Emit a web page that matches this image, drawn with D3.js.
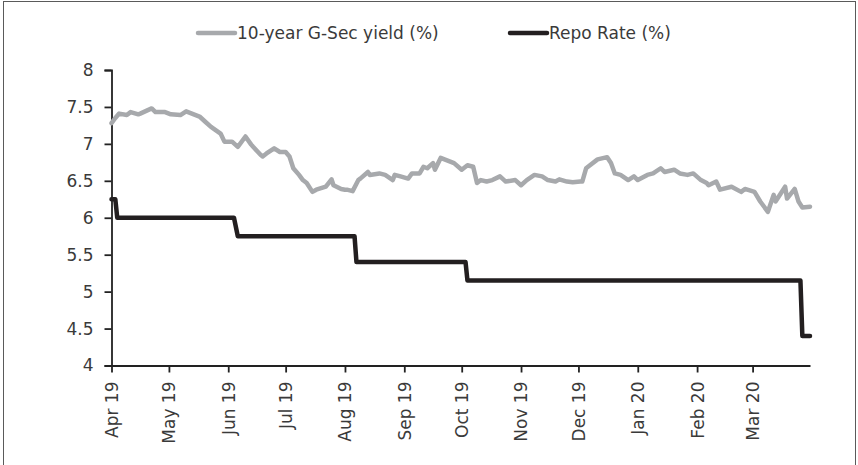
<!DOCTYPE html>
<html>
<head>
<meta charset="utf-8">
<script src="https://cdn.jsdelivr.net/npm/d3@7"></script>
<style>
  html, body { margin: 0; padding: 0; background: #fff; }
  svg { display: block; }
  text { font-family: "DejaVu Sans", "Open Sans", sans-serif; fill: #3a3a3a; }
</style>
</head>
<body>
<svg id="chart" width="858" height="465"></svg>
<script>
// ---- Data ----
const gsecDates = [
  "2019-04-01","2019-04-03","2019-04-05","2019-04-09","2019-04-11","2019-04-15","2019-04-16","2019-04-22","2019-04-24","2019-04-29",
  "2019-05-02","2019-05-07","2019-05-10","2019-05-14","2019-05-17","2019-05-20","2019-05-23","2019-05-28","2019-05-30",
  "2019-06-03","2019-06-06","2019-06-10","2019-06-13","2019-06-14","2019-06-18","2019-06-19","2019-06-21","2019-06-25","2019-06-28",
  "2019-07-01","2019-07-03","2019-07-05","2019-07-08","2019-07-10","2019-07-12","2019-07-15","2019-07-17","2019-07-22","2019-07-25","2019-07-26","2019-07-30",
  "2019-08-01","2019-08-02","2019-08-05","2019-08-08","2019-08-09","2019-08-13","2019-08-14","2019-08-19","2019-08-22","2019-08-26","2019-08-27","2019-08-30",
  "2019-09-03","2019-09-05","2019-09-09","2019-09-11","2019-09-13","2019-09-16","2019-09-17","2019-09-20","2019-09-23","2019-09-25","2019-09-27",
  "2019-10-01","2019-10-04","2019-10-07","2019-10-09","2019-10-11","2019-10-14","2019-10-17","2019-10-21","2019-10-24","2019-10-29",
  "2019-11-01","2019-11-04","2019-11-08","2019-11-12","2019-11-15","2019-11-19","2019-11-21","2019-11-25","2019-11-28",
  "2019-12-02","2019-12-03","2019-12-05","2019-12-06","2019-12-11","2019-12-16","2019-12-18","2019-12-20","2019-12-23","2019-12-27","2019-12-30",
  "2020-01-01","2020-01-06","2020-01-09","2020-01-13","2020-01-15","2020-01-20","2020-01-23","2020-01-27","2020-01-30",
  "2020-02-03","2020-02-06","2020-02-07","2020-02-11","2020-02-13","2020-02-19","2020-02-24","2020-02-26",
  "2020-03-02","2020-03-05","2020-03-09","2020-03-12","2020-03-13","2020-03-18","2020-03-19","2020-03-23","2020-03-25","2020-03-27","2020-03-31"
];
const gsecValues = [
  7.28,7.35,7.41,7.39,7.43,7.40,7.41,7.48,7.43,7.43,
  7.40,7.39,7.44,7.40,7.37,7.30,7.23,7.14,7.03,
  7.03,6.96,7.10,6.99,6.96,6.85,6.83,6.87,6.94,6.89,
  6.89,6.83,6.67,6.58,6.51,6.47,6.35,6.38,6.42,6.52,6.44,6.39,
  6.38,6.38,6.36,6.51,6.53,6.62,6.58,6.60,6.58,6.51,6.58,6.56,
  6.53,6.60,6.60,6.69,6.67,6.74,6.65,6.81,6.78,6.76,6.74,
  6.65,6.71,6.69,6.47,6.51,6.49,6.51,6.56,6.49,6.51,
  6.44,6.51,6.58,6.56,6.51,6.49,6.52,6.49,6.48,
  6.49,6.49,6.67,6.69,6.79,6.82,6.74,6.60,6.58,6.51,6.56,
  6.51,6.58,6.60,6.67,6.62,6.65,6.60,6.58,6.60,
  6.51,6.47,6.44,6.49,6.38,6.42,6.35,6.39,
  6.35,6.22,6.08,6.31,6.22,6.42,6.26,6.39,6.22,6.14,6.15
];
const repoDates = [
  "2019-04-01","2019-04-03","2019-04-04","2019-06-04","2019-06-06","2019-08-06","2019-08-07",
  "2019-10-03","2019-10-04","2020-03-26","2020-03-27","2020-03-31"
];
const repoValues = [6.25,6.25,6.00,6.00,5.75,5.75,5.40,5.40,5.15,5.15,4.40,4.40];
const yTicks = [4,4.5,5,5.5,6,6.5,7,7.5,8];
const monthTicks = ["2019-04-01","2019-05-01","2019-06-01","2019-07-01","2019-08-01","2019-09-01",
  "2019-10-01","2019-11-01","2019-12-01","2020-01-01","2020-02-01","2020-03-01"];
const seriesNames = ["10-year G-Sec yield (%)","Repo Rate (%)"];
const seriesColors = ["#A7A9AC","#231F20"];

// ---- Drawing ----
const parse = d3.utcParse("%Y-%m-%d");
const svg = d3.select("#chart");

// outer frame
svg.append("rect").attr("x",3.5).attr("y",1.5).attr("width",852).attr("height",480)
  .attr("fill","none").attr("stroke","#5a5a5a").attr("stroke-width",1);

const x = d3.scaleUtc().domain([parse("2019-04-01"), parse("2020-03-31")]).range([111.5, 810]);
const y = d3.scaleLinear().domain([4, 8]).range([365.5, 70]);

const gsec = gsecDates.map((d,i)=>({date:parse(d), value:gsecValues[i]}));
const repo = repoDates.map((d,i)=>({date:parse(d), value:repoValues[i]}));

// Y axis
const yAxis = svg.append("g").attr("transform","translate(111.5,0)")
  .call(d3.axisLeft(y).tickValues(yTicks).tickSize(7).tickPadding(11).tickFormat(d3.format("~g")));
yAxis.select(".domain").attr("stroke","#222").attr("stroke-width",1.8);
yAxis.selectAll(".tick line").attr("stroke","#222").attr("stroke-width",1.8);
yAxis.selectAll(".tick text").attr("font-size",17).style("fill","#3a3a3a")
  .style("font-family","'DejaVu Sans', sans-serif");

// X axis
const xAxis = svg.append("g").attr("transform","translate(0,365.5)")
  .call(d3.axisBottom(x).tickValues(monthTicks.map(parse)).tickSize(7).tickSizeOuter(0)
    .tickFormat(d3.utcFormat("%b %y")));
xAxis.select(".domain").attr("stroke","#222").attr("stroke-width",1.8);
xAxis.selectAll(".tick line").attr("stroke","#222").attr("stroke-width",1.8);
xAxis.selectAll(".tick text")
  .attr("font-size",17).style("fill","#3a3a3a")
  .style("font-family","'DejaVu Sans', sans-serif")
  .attr("text-anchor","end")
  .attr("transform","rotate(-90)")
  .attr("x",-16).attr("y",0).attr("dy","0.35em");

// Lines
const line = d3.line().x(d=>x(d.date)).y(d=>y(d.value));
svg.append("path").datum(gsec).attr("d",line)
  .attr("fill","none").attr("stroke",seriesColors[0]).attr("stroke-width",4.5)
  .attr("stroke-linejoin","round").attr("stroke-linecap","round");
svg.append("path").datum(repo).attr("d",line)
  .attr("fill","none").attr("stroke",seriesColors[1]).attr("stroke-width",4.5)
  .attr("stroke-linejoin","round").attr("stroke-linecap","round");

// Legend
const legendItems = [{x:196, name:seriesNames[0], color:seriesColors[0]},
                     {x:508, name:seriesNames[1], color:seriesColors[1]}];
const lg = svg.append("g");
legendItems.forEach(it=>{
  lg.append("line").attr("x1",it.x+2).attr("x2",it.x+39).attr("y1",33).attr("y2",33)
    .attr("stroke",it.color).attr("stroke-width",4.5).attr("stroke-linecap","round");
  lg.append("text").attr("x",it.x+41).attr("y",33).attr("dy","0.35em")
    .attr("font-size",17).text(it.name);
});
</script>
</body>
</html>
